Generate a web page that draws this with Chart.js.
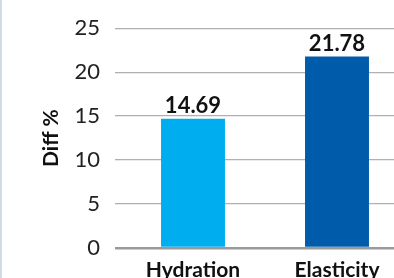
<!DOCTYPE html>
<html>
<head>
<meta charset="utf-8">
<script src="https://cdn.jsdelivr.net/npm/chart.js@4"></script>
<style>
  html, body { margin: 0; padding: 0; background: #fff; overflow: hidden; }
  #wrap { position: relative; width: 394px; height: 278px; overflow: hidden; }
  #strip { position: absolute; left: 0; top: 0; width: 2px; height: 278px; background: #d3dce0; }
  canvas { position: absolute; left: 0; top: 0; }
</style>
</head>
<body>
<div id="wrap">
  <canvas id="myChart" width="410" height="278" style="width:410px;height:278px"></canvas>
  <div id="strip"></div>
</div>
<script>
const categories = ["Hydration", "Elasticity"];
const diffValues = [14.69, 21.78];
const barColors = ["#00AEEF", "#005BAA"];
const yTicks = [0, 5, 10, 15, 20, 25];

const font = "Lato";

const valueLabels = {
    id: "valueLabels",
    afterDatasetsDraw(chart) {
        const ctx = chart.ctx;
        const meta = chart.getDatasetMeta(0);
        ctx.save();
        ctx.font = "bold 22px " + font;
        ctx.fillStyle = "#111";
        ctx.textAlign = "center";
        ctx.textBaseline = "bottom";
        meta.data.forEach((bar, i) => {
            ctx.fillText(diffValues[i].toFixed(2), bar.x, bar.y - 2);
        });
        ctx.restore();
    }
};

new Chart(document.getElementById("myChart"), {
    type: "bar",
    data: {
        labels: categories,
        datasets: [
            {
                data: diffValues,
                backgroundColor: barColors,
                barPercentage: 0.444,
                categoryPercentage: 1
            }
        ]
    },
    options: {
        responsive: false,
        animation: false,
        layout: { padding: { top: 22, right: 1, left: 0, bottom: 0 } },
        scales: {
            x: {
                grid: { display: false },
                border: { display: false },
                ticks: {
                    color: "#111",
                    padding: 2,
                    font: { family: font, size: 21, weight: "bold" }
                },
                afterFit: s => { s.height = 30; }
            },
            y: {
                min: 0,
                max: 25,
                afterBuildTicks: s => { s.ticks = yTicks.map(v => ({ value: v })); },
                border: { display: false },
                grid: {
                    color: c => c.tick.value === 0 ? "#9a9a9a" : "#b0b0b0",
                    lineWidth: c => c.tick.value === 0 ? 2.5 : 1.3,
                    tickLength: 6
                },
                ticks: {
                    color: "#222",
                    padding: 15,
                    font: { family: font, size: 22 }
                },
                title: {
                    display: true,
                    text: "Diff %",
                    color: "#111",
                    padding: { top: 39, bottom: 0 },
                    font: { family: font, size: 21, weight: "bold" }
                },
                afterFit: s => { s.width = 121; }
            }
        },
        plugins: {
            legend: { display: false },
            tooltip: { enabled: false }
        }
    },
    plugins: [valueLabels]
});
</script>
</body>
</html>
